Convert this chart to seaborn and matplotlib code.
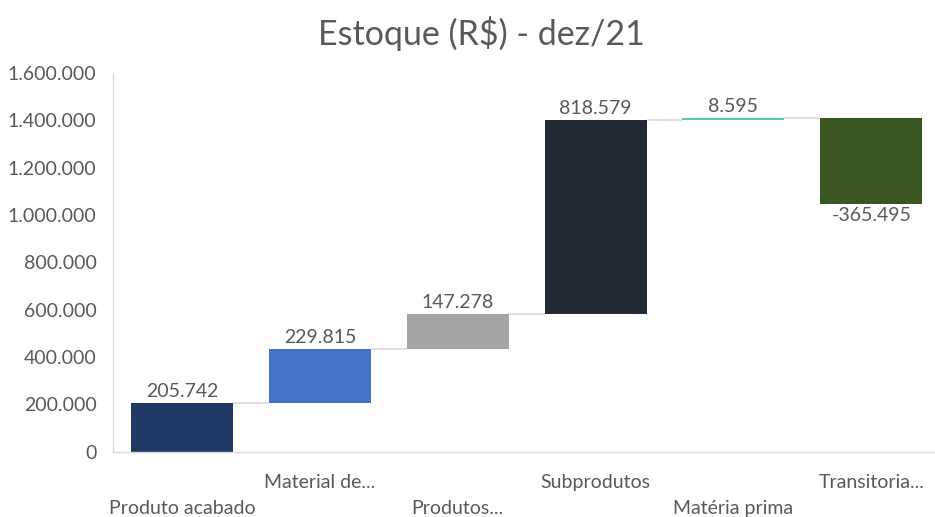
import seaborn as sns
import matplotlib.pyplot as plt
from matplotlib.ticker import FuncFormatter
import numpy as np
import pandas as pd

# dados do gráfico cascata
categorias = ['Produto acabado', 'Material de...', 'Produtos...', 'Subprodutos', 'Matéria prima', 'Transitoria...']
valores = [205742, 229815, 147278, 818579, 8595, -365495]
cores = ['#1F3864', '#4472C4', '#A5A5A5', '#222A35', '#5CCB96', '#3A5722']

topo = np.cumsum(valores)
base = topo - np.array(valores)
data = pd.DataFrame({'categoria': categorias, 'valor': valores, 'base': base})

sns.set_style("white")
plt.rcParams['font.family'] = ['Lato', 'DejaVu Sans']

fig = plt.figure(figsize=(9.35, 5.17), dpi=100)
ax = fig.add_axes([0.121, 0.126, 0.8845, 0.733])

largura = 0.74
ax = sns.barplot(x='categoria', y='valor', data=data, bottom=data['base'].values,
                 width=largura, color=cores[0], saturation=1, ax=ax)
for p, c in zip(ax.patches, cores):
    p.set_facecolor(c)
    p.set_edgecolor('none')

# linhas de conexão
for i in range(len(valores) - 1):
    ax.hlines(topo[i], i + largura / 2, i + 1 - largura / 2, color='#D9D9D9', lw=1.2, zorder=0)

fmt = lambda v: f"{v:,.0f}".replace(",", ".")
ax.bar_label(ax.containers[0], labels=[fmt(v) for v in valores], padding=2,
             fontsize=14, color='#595959')

ax.set_ylim(0, 1600000)
ax.set_xlim(-0.5, 5.5)
ax.set_yticks(range(0, 1600001, 200000))
ax.yaxis.set_major_formatter(FuncFormatter(lambda v, p: fmt(v)))
ax.tick_params(axis='y', labelsize=14, colors='#595959', length=0, pad=12)
ax.tick_params(axis='x', labelsize=14, colors='#595959', length=0)
for i, t in enumerate(ax.xaxis.get_major_ticks()):
    t.set_pad(16 if i % 2 == 1 else 35)

plt.xlabel('')
plt.ylabel('')
sns.despine(ax=ax, top=True, right=True)
for s in ['left', 'bottom']:
    ax.spines[s].set_color('#D9D9D9')
    ax.spines[s].set_linewidth(1)

fig.suptitle('Estoque (R$) - dez/21', x=0.515, y=0.97, fontsize=24.5, color='#595959')

fig.savefig('out.png', dpi=100)
